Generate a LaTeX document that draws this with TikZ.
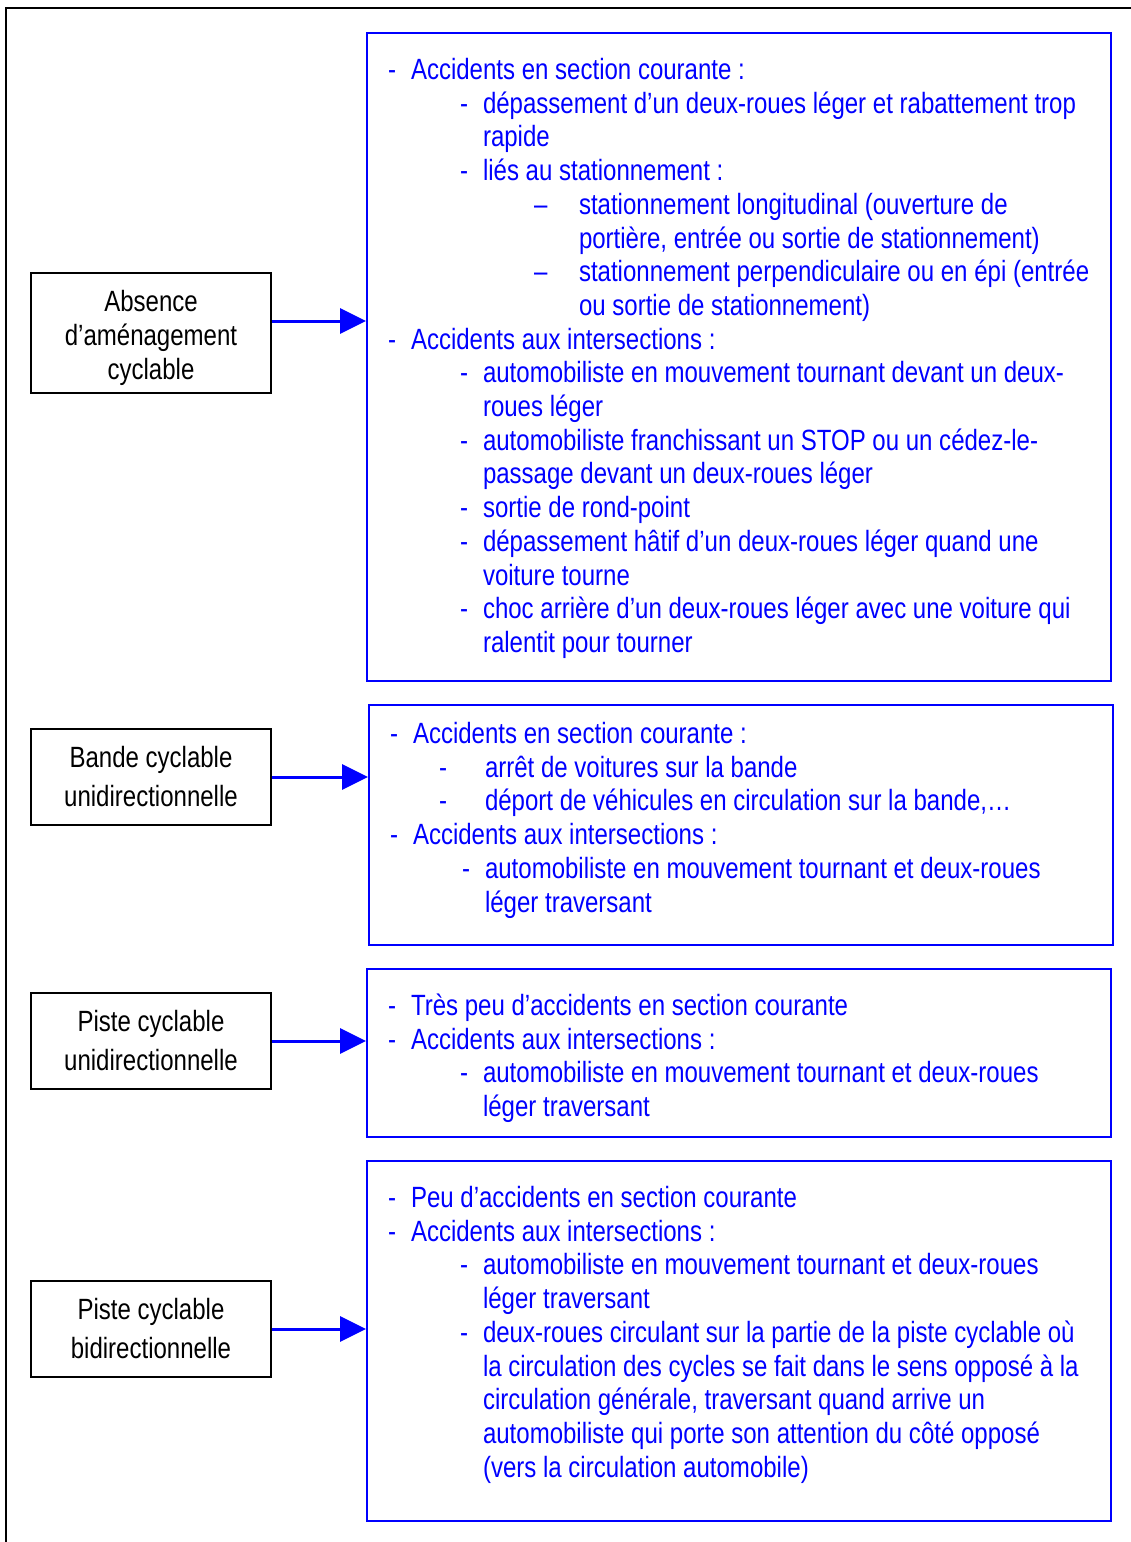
\documentclass[tikz,border=0pt]{standalone}
\usepackage{fontspec}
\setmainfont[FakeStretch=0.82]{Liberation Sans}
\usetikzlibrary{arrows.meta}
\tikzset{
  lbox/.style={draw=black, line width=2pt, minimum width=240pt, inner sep=0pt, align=center},
  bbox/.style={draw=blue, line width=2pt, minimum width=744pt, inner sep=0pt},
  btxt/.style={anchor=base west, inner sep=0pt, outer sep=0pt, text=blue, font=\fontsize{29.3}{34}\selectfont},
  arr/.style={draw=blue, line width=3pt, -{Triangle[length=26pt,width=25pt]}},
  frame/.style={draw=black, line width=1.5pt}
}
% name, dash x, text x, base y, line index, text
\newcommand\bl[6]{\node[btxt] (#1d) at (#2,{#4+33.7*#5}) {-};\node[btxt] (#1) at (#3,{#4+33.7*#5}) {#6};}
\newcommand\bm[6]{\node[btxt] (#1d) at (#2,{#4+33.7*#5}) {–};\node[btxt] (#1) at (#3,{#4+33.7*#5}) {#6};}
% name, text x, base y, line index, text
\newcommand\bc[5]{\node[btxt] (#1) at (#2,{#3+33.7*#4}) {#5};}
\begin{document}
\begin{tikzpicture}[x=1pt,y=-1pt]
\useasboundingbox (0,0) rectangle (1131,1542);
\draw[frame] (6,1542) -- (6,8) -- (1131,8);

% left boxes
\node[lbox, minimum height=120pt, font=\fontsize{29.3}{34}\selectfont] (a1) at (151,333) {\rule{0pt}{31pt}Absence\\d’aménagement\\cyclable};
\node[lbox, minimum height=96pt, font=\fontsize{29.3}{39}\selectfont] (a2) at (151,777) {Bande cyclable\\unidirectionnelle};
\node[lbox, minimum height=96pt, font=\fontsize{29.3}{39}\selectfont] (a3) at (151,1041) {Piste cyclable\\unidirectionnelle};
\node[lbox, minimum height=96pt, font=\fontsize{29.3}{39}\selectfont] (a4) at (151,1329) {Piste cyclable\\bidirectionnelle};

% right boxes
\node[bbox, minimum height=648pt] (b1) at (739,357) {};
\node[bbox, minimum height=240pt] (b2) at (741,825) {};
\node[bbox, minimum height=168pt] (b3) at (739,1053) {};
\node[bbox, minimum height=360pt] (b4) at (739,1341) {};

% arrows
\coordinate (y1) at (0,321);
\coordinate (y2) at (0,777);
\coordinate (y3) at (0,1041);
\coordinate (y4) at (0,1329);
\draw[arr] (a1.east |- y1) -- (b1.west |- y1);
\draw[arr] (a2.east |- y2) -- (b2.west |- y2);
\draw[arr] (a3.east |- y3) -- (b3.west |- y3);
\draw[arr] (a4.east |- y4) -- (b4.west |- y4);

% box 1 text
\bl{pa}{388}{411}{79.5}{0}{Accidents en section courante :}
\bl{pb}{460}{483}{79.5}{1}{dépassement d’un deux-roues léger et rabattement trop}
\bc{pc}{483}{79.5}{2}{rapide}
\bl{pd}{460}{483}{79.5}{3}{liés au stationnement :}
\bm{pe}{534}{579}{79.5}{4}{stationnement longitudinal (ouverture de}
\bc{pf}{579}{79.5}{5}{portière, entrée ou sortie de stationnement)}
\bm{pg}{534}{579}{79.5}{6}{stationnement perpendiculaire ou en épi (entrée}
\bc{ph}{579}{79.5}{7}{ou sortie de stationnement)}
\bl{pi}{388}{411}{79.5}{8}{Accidents aux intersections :}
\bl{pj}{460}{483}{79.5}{9}{automobiliste en mouvement tournant devant un deux-}
\bc{pk}{483}{79.5}{10}{roues léger}
\bl{pl}{460}{483}{79.5}{11}{automobiliste franchissant un STOP ou un cédez-le-}
\bc{pm}{483}{79.5}{12}{passage devant un deux-roues léger}
\bl{pn}{460}{483}{79.5}{13}{sortie de rond-point}
\bl{po}{460}{483}{79.5}{14}{dépassement hâtif d’un deux-roues léger quand une}
\bc{pp}{483}{79.5}{15}{voiture tourne}
\bl{pq}{460}{483}{79.5}{16}{choc arrière d’un deux-roues léger avec une voiture qui}
\bc{pr}{483}{79.5}{17}{ralentit pour tourner}

% box 2 text
\bl{qa}{390}{413}{743.5}{0}{Accidents en section courante :}
\bl{qb}{439}{485}{743.5}{1}{arrêt de voitures sur la bande}
\bl{qc}{439}{485}{743.5}{2}{déport de véhicules en circulation sur la bande,…}
\bl{qd}{390}{413}{743.5}{3}{Accidents aux intersections :}
\bl{qe}{462}{485}{743.5}{4}{automobiliste en mouvement tournant et deux-roues}
\bc{qf}{485}{743.5}{5}{léger traversant}

% box 3 text
\bl{ra}{388}{411}{1015.5}{0}{Très peu d’accidents en section courante}
\bl{rb}{388}{411}{1015.5}{1}{Accidents aux intersections :}
\bl{rc}{460}{483}{1015.5}{2}{automobiliste en mouvement tournant et deux-roues}
\bc{rd}{483}{1015.5}{3}{léger traversant}

% box 4 text
\bl{sa}{388}{411}{1207.5}{0}{Peu d’accidents en section courante}
\bl{sb}{388}{411}{1207.5}{1}{Accidents aux intersections :}
\bl{sc}{460}{483}{1207.5}{2}{automobiliste en mouvement tournant et deux-roues}
\bc{sd}{483}{1207.5}{3}{léger traversant}
\bl{se}{460}{483}{1207.5}{4}{deux-roues circulant sur la partie de la piste cyclable où}
\bc{sf}{483}{1207.5}{5}{la circulation des cycles se fait dans le sens opposé à la}
\bc{sg}{483}{1207.5}{6}{circulation générale, traversant quand arrive un}
\bc{sh}{483}{1207.5}{7}{automobiliste qui porte son attention du côté opposé}
\bc{si}{483}{1207.5}{8}{(vers la circulation automobile)}
\end{tikzpicture}
\end{document}
